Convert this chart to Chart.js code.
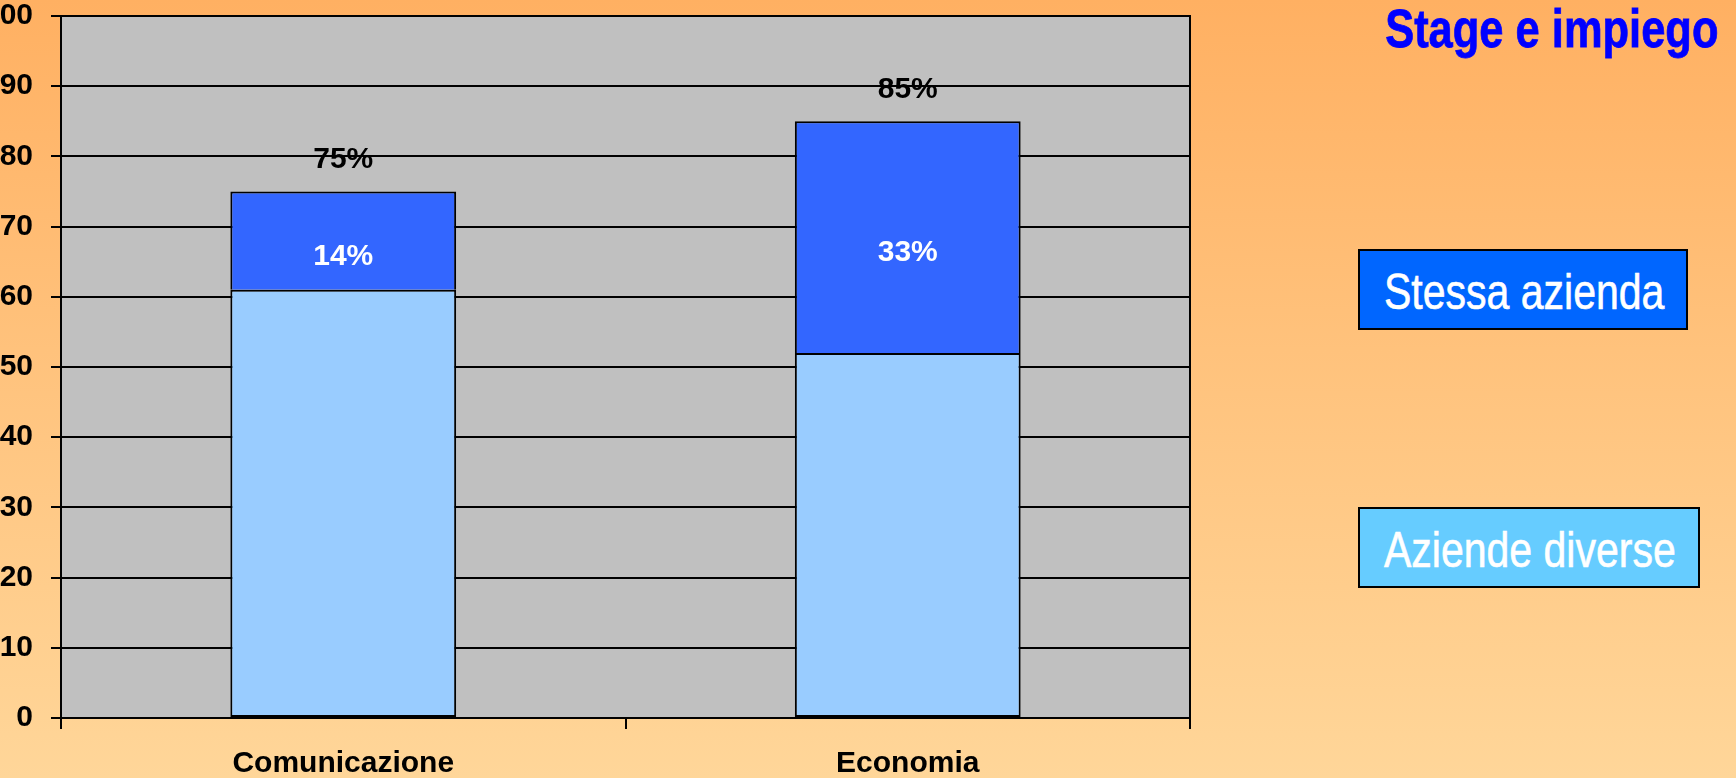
<!DOCTYPE html>
<html>
<head>
<meta charset="utf-8">
<script src="https://cdn.jsdelivr.net/npm/chart.js@4.4.1/dist/chart.umd.min.js"></script>
<style>
  html, body { margin: 0; padding: 0; }
  body {
    width: 1736px; height: 778px; overflow: hidden; position: relative;
    background: linear-gradient(to bottom, #FFB062 0%, #FFC27C 45%, #FFD699 100%);
  }
  #wrap { position: absolute; left: 0; top: 0; width: 1736px; height: 778px; }
  #title {
    position: absolute; right: 18px; top: 2px;
    font: bold 53px Arial, 'Liberation Sans', sans-serif;
    line-height: 53px; color: #0000FF; white-space: nowrap;
    -webkit-text-stroke: 0.8px #0000FF;
    transform: scaleX(0.82); transform-origin: right top;
  }
  .key {
    position: absolute; left: 1358px; height: 81px; box-sizing: border-box;
    border: 2px solid #000; padding: 6px 0 0 24px;
    font: 50px Arial, 'Liberation Sans', sans-serif;
    line-height: 71px; color: #fff; white-space: nowrap;
  }
  .key span {
    display: inline-block; transform: scaleX(0.82); transform-origin: left top;
    -webkit-text-stroke: 0.6px #fff;
  }
</style>
</head>
<body>
<div id="wrap"><canvas id="chart" width="1736" height="778"></canvas></div>
<div id="title">Stage e impiego</div>
<div id="keys"></div>
<script>
// dati
const categories = ['Comunicazione', 'Economia'];
const seriesNames = ['Aziende diverse', 'Stessa azienda'];
const lowerShare = [61, 52];   // aziende diverse
const upperShare = [14, 33];   // stessa azienda

const barColors = ['#99CCFF', '#3366FF'];
const keyColors = ['#66CCFF', '#0066FF'];
const keyTops = [507, 249];

// legenda a riquadri (testo stretto come Arial Narrow)
const keys = document.getElementById('keys');
seriesNames.forEach((name, i) => {
    const d = document.createElement('div');
    d.className = 'key';
    d.style.top = keyTops[i] + 'px';
    d.style.background = keyColors[i];
    const s = document.createElement('span');
    s.textContent = name;
    d.appendChild(s);
    keys.appendChild(d);
    d.style.width = Math.round(s.offsetWidth * 0.82 + 24 + 22 + 4) + 'px';
});

const FONT = 'Arial, "Liberation Sans", sans-serif';

const plotFrame = {
    id: 'plotFrame',
    beforeDraw(chart) {
        const { ctx, chartArea: a } = chart;
        ctx.save();
        ctx.fillStyle = '#C0C0C0';
        ctx.fillRect(a.left, a.top, a.right - a.left, a.bottom - a.top);
        ctx.restore();
    },
    afterDraw(chart) {
        const { ctx, chartArea: a } = chart;
        ctx.save();
        ctx.strokeStyle = '#000';
        ctx.lineWidth = 2;
        ctx.beginPath();
        ctx.moveTo(a.right, a.top - 1);
        ctx.lineTo(a.right, a.bottom);
        ctx.stroke();
        ctx.restore();
    }
};

const barLabels = {
    id: 'barLabels',
    afterDatasetsDraw(chart) {
        const ctx = chart.ctx;
        const up = chart.getDatasetMeta(1);
        ctx.save();
        ctx.font = 'bold 30px ' + FONT;
        ctx.textAlign = 'center';
        ctx.textBaseline = 'middle';
        up.data.forEach((bar, i) => {
            ctx.fillStyle = '#fff';
            ctx.fillText(upperShare[i] + '%', bar.x, (bar.y + bar.base) / 2 + 16);
            ctx.fillStyle = '#000';
            ctx.fillText((lowerShare[i] + upperShare[i]) + '%', bar.x, bar.y - 32);
        });
        ctx.restore();
    }
};

new Chart(document.getElementById('chart').getContext('2d'), {
    type: 'bar',
    data: {
        labels: categories,
        datasets: [
            { label: seriesNames[0], data: lowerShare, backgroundColor: barColors[0], borderSkipped: false },
            { label: seriesNames[1], data: upperShare, backgroundColor: barColors[1], borderSkipped: 'start' }
        ]
    },
    options: {
        responsive: false,
        animation: false,
        events: [],
        categoryPercentage: 0.8,
        barPercentage: 0.5,
        datasets: {
            bar: { borderColor: '#000', borderWidth: 2 }
        },
        layout: { padding: { left: 0, right: 546, top: 16, bottom: 0 } },
        scales: {
            x: {
                stacked: true,
                afterFit(scale) { scale.height = 60; scale.paddingLeft = 0; scale.paddingRight = 0; },
                grid: {
                    offset: true, drawOnChartArea: false, drawTicks: true,
                    tickLength: 11, color: '#000', lineWidth: 2
                },
                border: { color: '#000', width: 2 },
                ticks: {
                    color: '#000', padding: 17,
                    font: { family: FONT, size: 30, weight: 'bold', lineHeight: 1.2 }
                }
            },
            y: {
                stacked: true,
                min: 0, max: 100,
                afterFit(scale) { scale.width = 61; scale.paddingTop = 0; scale.paddingBottom = 0; },
                grid: { color: '#000', lineWidth: 2, tickLength: 10 },
                border: { color: '#000', width: 2 },
                ticks: {
                    stepSize: 10, color: '#000', padding: 18,
                    font: { family: FONT, size: 30, weight: 'bold', lineHeight: 1 }
                }
            }
        },
        plugins: {
            legend: { display: false },
            tooltip: { enabled: false }
        }
    },
    plugins: [plotFrame, barLabels]
});
</script>
</body>
</html>
